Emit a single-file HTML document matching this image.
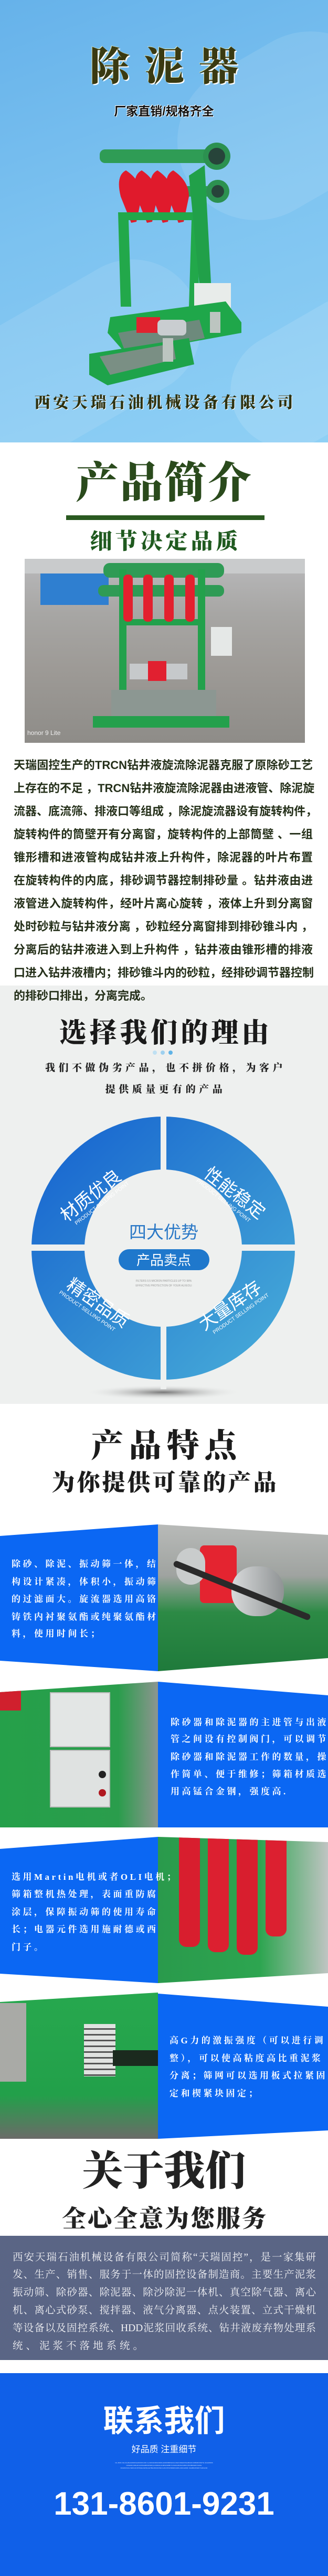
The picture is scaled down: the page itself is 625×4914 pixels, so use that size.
<!DOCTYPE html>
<html><head><meta charset="utf-8">
<style>
*{margin:0;padding:0;box-sizing:border-box}
body{width:625px;height:4914px;position:relative;background:#fff;overflow:hidden;font-family:"Liberation Sans","Noto Sans CJK SC",sans-serif}
.a{position:absolute}
.c{position:absolute;left:0;width:625px;text-align:center;white-space:nowrap}
.serif{font-family:"Liberation Serif","Noto Serif CJK SC",serif}
.p{position:absolute;left:26px;width:570px;font-size:22px;font-weight:bold;color:#25301a;white-space:nowrap;text-align:justify;text-align-last:justify;line-height:44px}
.bt{position:absolute;color:#fff;font-size:17px;letter-spacing:4.5px;white-space:nowrap;font-family:"Liberation Serif","Noto Serif CJK SC",serif;font-weight:bold}
.pt{position:absolute;left:24px;width:578px;color:#f2f2f5;font-size:19.5px;white-space:nowrap;text-align:justify;text-align-last:justify;font-family:"Liberation Serif","Noto Serif CJK SC",serif}
</style></head><body>

<!-- Section 1 hero -->
<div class="a" style="left:0;top:0;width:625px;height:844px;background:linear-gradient(160deg,#66b2ea 0%,#7cc2f0 45%,#8fd0f5 100%);overflow:hidden">
 <div class="a" style="left:330px;top:90px;width:420px;height:300px;border-radius:150px;background:rgba(255,255,255,0.10);transform:rotate(-30deg)"></div>
 <div class="a" style="left:-120px;top:560px;width:520px;height:260px;border-radius:130px;background:rgba(255,255,255,0.10);transform:rotate(-30deg)"></div>
 <div class="a" style="left:430px;top:600px;width:360px;height:220px;border-radius:110px;background:rgba(255,255,255,0.12);transform:rotate(-30deg)"></div>
</div>
<div class="c serif" style="top:66px;font-size:76px;font-weight:900;color:#3a3a12;letter-spacing:28px;padding-left:28px;text-shadow:2px 2px 0 #fff,-1px -1px 0 #d8e8c0">除泥器</div>
<div class="c" style="top:193px;font-size:23px;font-weight:bold;color:#111;text-shadow:1px 1px 0 #fff,-1px -1px 0 #fff">厂家直销/规格齐全</div>
<svg class="a" style="left:130px;top:255px" width="350" height="490" viewBox="0 0 350 490">
 <rect x="60" y="30" width="230" height="26" rx="10" fill="#2f9c55"/>
 <circle cx="283" cy="43" r="26" fill="#2c9150"/><circle cx="283" cy="43" r="16" fill="#27443a"/>
 <rect x="120" y="100" width="170" height="20" fill="#2f9c55"/>
 <circle cx="285" cy="110" r="22" fill="#2c9150"/><circle cx="285" cy="110" r="12" fill="#27443a"/>
 <g fill="#e01a2c">
  <path d="M110 70 q-20 10 -10 50 l20 50 l10 -2 l10 -48 q0 -30 -30 -50z"/>
  <path d="M140 70 q-20 10 -10 50 l20 50 l10 -2 l10 -48 q0 -30 -30 -50z"/>
  <path d="M170 70 q-20 10 -10 50 l20 50 l10 -2 l10 -48 q0 -30 -30 -50z"/>
  <path d="M200 70 q-20 10 -10 50 l20 50 l10 -2 l10 -48 q0 -30 -30 -50z"/>
 </g>
 <path d="M95 150 L100 330 L120 330 L115 165 L235 165 L230 330 L250 330 L245 150 Z" fill="#22a84a"/>
 <path d="M230 80 L260 60 L275 340 L255 340 Z" fill="#21a049"/>
 <rect x="240" y="285" width="70" height="60" fill="#e8ecea"/>
 <path d="M80 350 L300 320 L330 360 L330 380 L110 420 L75 380 Z" fill="#1fa74a"/>
 <path d="M95 380 L250 355 L260 390 L110 420 Z" fill="#6d8a7c"/>
 <path d="M40 420 L230 390 L240 440 L75 480 L40 460 Z" fill="#1ea34a"/>
 <path d="M60 425 L200 400 L205 430 L80 460 Z" fill="#7a8f84"/>
 <rect x="180" y="390" width="20" height="45" fill="#bcc5c0"/>
 <rect x="270" y="340" width="20" height="40" fill="#bcc5c0"/>
 <rect x="130" y="350" width="45" height="30" fill="#e0232f"/>
 <rect x="170" y="355" width="55" height="30" rx="8" fill="#c9cdd0"/>
</svg>
<div class="c serif" style="top:743px;font-size:30px;font-weight:900;color:#2e3210;letter-spacing:5.6px;padding-left:5px;text-shadow:1px 1px 0 #fff">西安天瑞石油机械设备有限公司</div>

<!-- Section 2 -->
<div class="c serif" style="top:872px;font-size:82px;font-weight:900;color:#2a4a1c;letter-spacing:2px;line-height:100px">产品简介</div>
<div class="a" style="left:126px;top:983px;width:378px;height:9px;background:#2a5a20"></div>
<div class="c serif" style="top:1000px;font-size:42px;font-weight:900;color:#1f5a1f;letter-spacing:6px;padding-left:6px">细节决定品质</div>
<div class="a" style="left:47px;top:1066px;width:534px;height:351px;background:linear-gradient(180deg,#b9b9bb 0%,#a7a6a4 30%,#9d9a96 60%,#8e8c88 100%);overflow:hidden">
 <div class="a" style="left:30px;top:28px;width:130px;height:60px;background:#2f7fd0"></div>
 <div class="a" style="left:0;top:0;width:534px;height:28px;background:#c9cbcc"></div>
 <div class="a" style="left:150px;top:8px;width:230px;height:28px;border-radius:12px;background:#2f9b55"></div>
 <div class="a" style="left:140px;top:50px;width:240px;height:22px;border-radius:10px;background:#2f9b55"></div>
 <div class="a" style="left:180px;top:20px;width:14px;height:262px;background:#23a14c"></div>
 <div class="a" style="left:330px;top:20px;width:14px;height:262px;background:#23a14c"></div>
 <div class="a" style="left:180px;top:115px;width:164px;height:12px;background:#23a14c"></div>
 <div class="a" style="left:188px;top:30px;width:18px;height:90px;background:#e3202e;border-radius:8px"></div>
 <div class="a" style="left:226px;top:30px;width:18px;height:90px;background:#e3202e;border-radius:8px"></div>
 <div class="a" style="left:266px;top:30px;width:18px;height:90px;background:#e3202e;border-radius:8px"></div>
 <div class="a" style="left:306px;top:30px;width:18px;height:90px;background:#e3202e;border-radius:8px"></div>
 <div class="a" style="left:200px;top:200px;width:110px;height:30px;background:#c6c9cb"></div>
 <div class="a" style="left:235px;top:195px;width:35px;height:38px;background:#e12030"></div>
 <div class="a" style="left:165px;top:250px;width:200px;height:50px;background:#8c9792"></div>
 <div class="a" style="left:130px;top:300px;width:260px;height:22px;background:#24a04c"></div>
 <div class="a" style="left:355px;top:130px;width:40px;height:55px;background:#e5e8e7"></div>
 <div class="a" style="left:5px;top:325px;font-size:12px;color:#eee">honor 9 Lite</div>
</div>
<div class="p" style="top:1438px">天瑞固控生产的TRCN钻井液旋流除泥器克服了原除砂工艺</div>
<div class="p" style="top:1482px">上存在的不足 ，TRCN钻井液旋流除泥器由进液管、除泥旋</div>
<div class="p" style="top:1526px">流器、底流筛、排液口等组成 ，除泥旋流器设有旋转构件，</div>
<div class="p" style="top:1570px">旋转构件的筒壁开有分离窗，旋转构件的上部筒壁 、一组</div>
<div class="p" style="top:1614px">锥形槽和进液管构成钻井液上升构件，除泥器的叶片布置</div>
<div class="p" style="top:1658px">在旋转构件的内底，排砂调节器控制排砂量 。钻井液由进</div>
<div class="p" style="top:1702px">液管进入旋转构件，经叶片离心旋转 ，液体上升到分离窗</div>
<div class="p" style="top:1746px">处时砂粒与钻井液分离 ，砂粒经分离窗排到排砂锥斗内 ，</div>

<!-- Section 3 gray -->
<div class="a" style="left:0;top:1880px;width:625px;height:798px;background:#eef0ef"></div>
<div class="p" style="top:1790px">分离后的钻井液进入到上升构件 ，钻井液由锥形槽的排液</div>
<div class="p" style="top:1834px">口进入钻井液槽内；排砂锥斗内的砂粒，经排砂调节器控制</div>
<div class="p" style="top:1878px;text-align-last:left">的排砂口排出，分离完成。</div>
<div class="c serif" style="top:1928px;font-size:52px;font-weight:900;color:#1a1a1a;letter-spacing:6px;padding-left:6px">选择我们的理由</div>
<div class="a" style="left:291px;top:2004px;width:8px;height:8px;border-radius:50%;background:#bfe0f2"></div>
<div class="a" style="left:306px;top:2004px;width:8px;height:8px;border-radius:50%;background:#9ed0ef"></div>
<div class="a" style="left:321px;top:2004px;width:8px;height:8px;border-radius:50%;background:#5fb3e6"></div>
<div class="c serif" style="top:2022px;font-size:19px;font-weight:900;color:#222;letter-spacing:6.5px;padding-left:6px">我们不做伪劣产品，也不拼价格，为客户</div>
<div class="c serif" style="top:2063px;font-size:19px;font-weight:900;color:#222;letter-spacing:6.5px;padding-left:6px">提供质量更有的产品</div>
<svg class="a" style="left:0;top:2120px" width="625" height="560">
 <defs><linearGradient id="g" x1="0" y1="0" x2="1" y2="1">
  <stop offset="0" stop-color="#1460d0"/><stop offset="0.5" stop-color="#2f88d2"/><stop offset="1" stop-color="#4ab0da"/></linearGradient>
  <radialGradient id="sh"><stop offset="0" stop-color="#777"/><stop offset="1" stop-color="#eef0ef" stop-opacity="0"/></radialGradient></defs>
 <ellipse cx="311" cy="536" rx="150" ry="14" fill="url(#sh)"/>
 <circle cx="311" cy="261" r="251" fill="url(#g)"/>
 <circle cx="311" cy="261" r="150" fill="#eef0ef"/>
 <rect x="306" y="0" width="11" height="530" fill="#eef0ef"/>
 <rect x="50" y="254" width="525" height="12" fill="#eef0ef"/>
 <text x="312" y="242" text-anchor="middle" font-size="33" fill="#2a78c6" font-family="Liberation Sans,Noto Sans CJK SC,sans-serif">四大优势</text>
 <rect x="226" y="263" width="173" height="40" rx="20" fill="#1f78cc"/>
 <text x="312" y="293" text-anchor="middle" font-size="26" fill="#fff" font-family="Liberation Sans,Noto Sans CJK SC,sans-serif">产品卖点</text>
 <text x="312" y="325" text-anchor="middle" font-size="5" fill="#999">FILTERS 0.5 MICRON PARTICLES UP TO 98%</text>
 <text x="312" y="334" text-anchor="middle" font-size="5" fill="#999">EFFECTIVE PROTECTION OF YOUR ALVEOLI</text>
 <g fill="#fff" font-family="Liberation Sans,Noto Sans CJK SC,sans-serif">
  <g transform="translate(180,170) rotate(-38)"><text x="0" y="0" text-anchor="middle" font-size="34">材质优良</text><text x="8" y="16" text-anchor="middle" font-size="10">PRODUCT SELLING POINT</text></g>
  <g transform="translate(440,165) rotate(38)"><text x="0" y="0" text-anchor="middle" font-size="34">性能稳定</text><text x="-8" y="16" text-anchor="middle" font-size="10">PRODUCT SELLING POINT</text></g>
  <g transform="translate(180,375) rotate(35)"><text x="0" y="0" text-anchor="middle" font-size="34">精密品质</text><text x="-8" y="16" text-anchor="middle" font-size="10">PRODUCT SELLING POINT</text></g>
  <g transform="translate(445,380) rotate(-35)"><text x="0" y="0" text-anchor="middle" font-size="34">大量库存</text><text x="8" y="16" text-anchor="middle" font-size="10">PRODUCT SELLING POINT</text></g>
 </g>
</svg>

<!-- Section 4 -->
<div class="c serif" style="top:2708px;font-size:62px;font-weight:900;color:#1c1c1c;letter-spacing:10px;padding-left:10px">产品特点</div>
<div class="c serif" style="top:2792px;font-size:44px;font-weight:900;color:#1c1c1c;letter-spacing:4px;padding-left:4px">为你提供可靠的产品</div>

<!-- row1 -->
<div class="a" style="left:0;top:2908px;width:301px;height:280px;background:#0b67f3;clip-path:polygon(0 22px,301px 0,301px 280px,0 260px)"></div>
<div class="a" style="left:301px;top:2908px;width:324px;height:280px;background:linear-gradient(180deg,#b8bab8 0%,#9fa3a0 35%,#2c8a45 60%,#1f7a3b 100%);clip-path:polygon(0 0,324px 20px,324px 255px,0 280px);overflow:hidden">
 <div class="a" style="left:80px;top:40px;width:70px;height:110px;background:#e42430;border-radius:8px"></div>
 <div class="a" style="left:140px;top:80px;width:100px;height:95px;border-radius:45px;background:linear-gradient(90deg,#d8dadb,#8f9394)"></div>
 <div class="a" style="left:35px;top:45px;width:55px;height:70px;border-radius:30px;background:#c9cccc"></div>
 <div class="a" style="left:20px;top:120px;width:280px;height:12px;border-radius:6px;background:#2a2a2a;transform:rotate(22deg)"></div>
</div>
<div class="bt" style="left:22px;top:2969px">除砂、除泥、振动筛一体，结</div>
<div class="bt" style="left:22px;top:3003px">构设计紧凑，体积小，振动筛</div>
<div class="bt" style="left:22px;top:3036px">的过滤面大。旋流器选用高铬</div>
<div class="bt" style="left:22px;top:3070px">铸铁内衬聚氨酯或纯聚氨酯材</div>
<div class="bt" style="left:22px;top:3102px">料，使用时间长；</div>

<!-- row2 -->
<div class="a" style="left:0;top:3208px;width:301px;height:278px;background:linear-gradient(90deg,#25a04a 0%,#2a9d4c 75%,#8d9590 100%);clip-path:polygon(0 20px,301px 0,301px 278px,0 278px);overflow:hidden">
 <div class="a" style="left:95px;top:20px;width:115px;height:105px;background:#e3e6e5;border:2px solid #bbb"></div>
 <div class="a" style="left:95px;top:130px;width:115px;height:110px;background:#dfe2e1;border:2px solid #bbb"></div>
 <div class="a" style="left:188px;top:170px;width:14px;height:14px;border-radius:50%;background:#222"></div>
 <div class="a" style="left:188px;top:205px;width:14px;height:14px;border-radius:50%;background:#b01820"></div>
 <div class="a" style="left:0;top:15px;width:40px;height:40px;background:#d0202d"></div>
</div>
<div class="a" style="left:301px;top:3208px;width:324px;height:278px;background:#0b67f3;clip-path:polygon(0 0,324px 26px,324px 278px,0 278px)"></div>
<div class="bt" style="left:325px;top:3271px">除砂器和除泥器的主进管与出液</div>
<div class="bt" style="left:325px;top:3303px">管之间设有控制阀门，可以调节</div>
<div class="bt" style="left:325px;top:3337px">除砂器和除泥器工作的数量，操</div>
<div class="bt" style="left:325px;top:3370px">作简单、便于维修；筛箱材质选</div>
<div class="bt" style="left:325px;top:3403px">用高锰合金钢，强度高.</div>

<!-- row3 -->
<div class="a" style="left:0;top:3504px;width:301px;height:279px;background:#0b67f3;clip-path:polygon(0 23px,301px 0,301px 279px,0 261px)"></div>
<div class="a" style="left:301px;top:3504px;width:324px;height:279px;background:linear-gradient(90deg,#2a9a4c,#2da550 60%,#bfc4c2);clip-path:polygon(0 0,324px 10px,324px 260px,0 279px);overflow:hidden">
 <div class="a" style="left:40px;top:0;width:40px;height:210px;background:#d81e2e;border-radius:0 0 14px 14px"></div>
 <div class="a" style="left:95px;top:0;width:40px;height:220px;background:#dc2030;border-radius:0 0 14px 14px"></div>
 <div class="a" style="left:150px;top:0;width:40px;height:225px;background:#d81e2e;border-radius:0 0 14px 14px"></div>
 <div class="a" style="left:205px;top:0;width:40px;height:190px;background:#dc2030;border-radius:0 0 14px 14px"></div>
</div>
<div class="bt" style="left:22px;top:3566px">选用Martin电机或者OLI电机；</div>
<div class="bt" style="left:22px;top:3599px">筛箱整机热处理，表面重防腐</div>
<div class="bt" style="left:22px;top:3633px">涂层，保障振动筛的使用寿命</div>
<div class="bt" style="left:22px;top:3666px">长；电器元件选用施耐德或西</div>
<div class="bt" style="left:22px;top:3700px">门子。</div>

<!-- row4 -->
<div class="a" style="left:0;top:3801px;width:301px;height:279px;background:linear-gradient(180deg,#27a84e 0%,#22a04a 70%,#6b6b68 100%);clip-path:polygon(0 18px,301px 0,301px 279px,0 279px);overflow:hidden">
 <div class="a" style="left:0;top:20px;width:50px;height:150px;background:#a9aaa6"></div>
 <div class="a" style="left:160px;top:60px;width:60px;height:100px;background:repeating-linear-gradient(180deg,#e0e2e0 0 8px,#555 8px 11px)"></div>
 <div class="a" style="left:215px;top:110px;width:86px;height:30px;background:#1b2a1e"></div>
</div>
<div class="a" style="left:301px;top:3803px;width:324px;height:277px;background:#0b67f3;clip-path:polygon(0 0,324px 25px,324px 261px,0 277px)"></div>
<div class="bt" style="left:323px;top:3878px">高G力的激振强度（可以进行调</div>
<div class="bt" style="left:323px;top:3912px">整），可以使高粘度高比重泥浆</div>
<div class="bt" style="left:323px;top:3945px">分离；筛网可以选用板式拉紧固</div>
<div class="bt" style="left:323px;top:3979px">定和楔紧块固定；</div>

<!-- About -->
<div class="c serif" style="top:4092px;font-size:78px;font-weight:900;color:#222;letter-spacing:0px;line-height:100px">关于我们</div>
<div class="c serif" style="top:4196px;font-size:46px;font-weight:900;color:#222;letter-spacing:3px;padding-left:3px">全心全意为您服务</div>
<div class="a" style="left:0;top:4265px;width:625px;height:237px;background:#5a6585"></div>
<div class="pt" style="top:4290px">西安天瑞石油机械设备有限公司简称“天瑞固控”，是一家集研</div>
<div class="pt" style="top:4323px">发、生产、销售、服务于一体的固控设备制造商。主要生产泥浆</div>
<div class="pt" style="top:4357px">振动筛、除砂器、除泥器、除沙除泥一体机、真空除气器、离心</div>
<div class="pt" style="top:4391px">机、离心式砂泵、搅拌器、液气分离器、点火装置、立式干燥机</div>
<div class="pt" style="top:4425px">等设备以及固控系统、HDD泥浆回收系统、钻井液废弃物处理系</div>
<div class="pt" style="top:4459px;text-align-last:left;letter-spacing:6px">统、泥浆不落地系统。</div>

<!-- Contact -->
<div class="a" style="left:0;top:4527px;width:625px;height:387px;background:#1060e8"></div>
<div class="c" style="top:4584px;font-size:58px;font-weight:bold;color:#fff;line-height:70px">联系我们</div>
<div class="c" style="top:4658px;font-size:17px;color:#fff">好品质 注重细节</div>
<div class="c" style="top:4696px;font-size:3px;color:#cfe0ff;line-height:5px">OL.JKDF JGLCG,BHGOKDFGHKKDFS KDF JL,SDVHKJDFHSDKLGDDFSBFSAOH.JFHKJSDHFOSLDBJHT,CDBJDFOSFTH.JLGHFDKS<br>CDGKDF,JSDHKJLDFSGHBVKDSDF,JLKSDGFHCJBVHSDBFYUOHFHJKDSLSVBCX,BVNBASDFYHDSL<br>KFHDKJVCH SDFUJLSTDSGHJHFDLGHTBHJKRUFOSD.GJKLSTDVNBJRCHIDK,ASFGHKDF JGHBFHKSDFYJHKALSD</div>
<div class="c" style="top:4744px;font-size:62px;font-weight:bold;color:#fff;line-height:66px">131-8601-9231</div>
</body></html>
